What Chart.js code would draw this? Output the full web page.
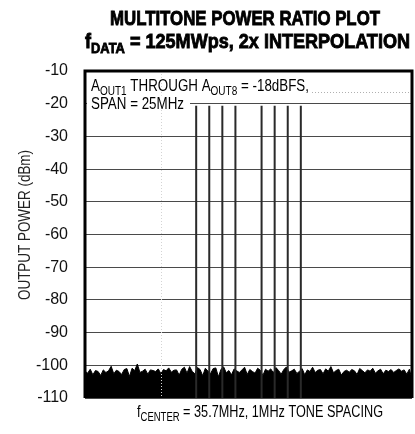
<!DOCTYPE html>
<html>
<head>
<meta charset="utf-8">
<script src="https://cdn.jsdelivr.net/npm/chart.js@4/dist/chart.umd.min.js"></script>
<style>
  body { margin: 0; background: #fff; }
  #c { display: block; }
</style>
</head>
<body>
<canvas id="c" width="415" height="434"></canvas>
<script>
// tone frequencies (MHz) and levels (dBm), 1MHz spacing around 35.7MHz, centre tone missing
var toneFreqs = [31.7, 32.7, 33.7, 34.7, 36.7, 37.7, 38.7, 39.7];
var toneLevels = [-20.6, -20.6, -20.6, -20.6, -20.6, -20.6, -20.6, -20.6];

// noise floor, one value every 0.2MHz from 23.2MHz
var noiseStart = 23.2;
var noiseStep = 0.2;
var noiseLevels = [
    -101.8, -102.4, -101.2, -102.9, -101.6, -101.9, -103.1, -101.4, -102.2, -101.7,
    -100.3, -102.6, -101.5, -101.9, -102.8, -101.3, -101.0, -103.4, -100.9, -101.6,
    -99.6, -102.2, -101.8, -101.2, -102.7, -101.4, -101.6, -101.9, -101.1, -102.5,
    -101.3, -101.7, -100.8, -102.1, -101.5, -101.4, -103.0, -101.2, -100.6, -102.4,
    -100.4, -101.9, -102.6, -100.7, -101.3, -103.2, -100.9, -101.8, -102.5, -101.0,
    -100.8, -103.5, -101.2, -100.5, -102.3, -101.6, -102.9, -101.1, -101.7, -102.2,
    -101.4, -100.6, -102.8, -101.3, -101.9, -102.4, -100.9, -101.5, -103.1, -101.2,
    -101.8, -101.1, -102.3, -100.7, -101.6, -102.7, -101.3, -100.5, -102.1, -101.7,
    -101.2, -102.5, -101.8, -101.0, -102.9, -101.4, -101.9, -100.6, -102.2, -101.5,
    -101.3, -102.6, -101.1, -101.8, -100.4, -102.3, -101.6, -101.2, -103.0, -101.9,
    -101.5, -102.1, -101.3, -101.7, -102.8, -101.0, -101.6, -102.3, -101.4, -101.8,
    -100.9, -102.4, -101.7, -101.2, -102.6, -101.5, -101.9, -101.3, -102.2, -101.6,
    -101.1, -101.8, -101.4, -102.7, -101.2, -104.3
];

// axis
var freqMin = 23.2;
var freqMax = 48.2;
var yMin = -110;
var yMax = -10;
var yStep = 10;

var FONT = "'Liberation Sans', Arial, sans-serif";

var tonePoints = [];
toneFreqs.forEach(function (f, i) {
    tonePoints.push({ x: f, y: yMin });
    tonePoints.push({ x: f, y: toneLevels[i] });
    tonePoints.push({ x: f, y: null });
});

var noisePoints = noiseLevels.map(function (v, i) {
    return { x: noiseStart + i * noiseStep, y: v };
});

// text made of pieces (some subscript), squeezed to a given width like the condensed original
function drawParts(ctx, x, y, parts, size, weight, width, heavy) {
    var fonts = parts.map(function (p) {
        return weight + " " + (p[1] ? Math.round(size * 0.72) : size) + "px " + FONT;
    });
    var total = 0;
    parts.forEach(function (p, i) {
        ctx.font = fonts[i];
        total += ctx.measureText(p[0]).width;
    });
    var sx = width ? width / total : 1;
    ctx.save();
    ctx.translate(x, y);
    ctx.scale(sx, 1);
    ctx.strokeStyle = ctx.fillStyle;
    ctx.lineWidth = 0.9;
    var cx = 0;
    parts.forEach(function (p, i) {
        ctx.font = fonts[i];
        ctx.fillText(p[0], cx, p[1] ? size * 0.22 : 0);
        if (heavy) ctx.strokeText(p[0], cx, p[1] ? size * 0.22 : 0);
        cx += ctx.measureText(p[0]).width;
    });
    ctx.restore();
    return x + total * sx;
}

var decorations = {
    id: 'decorations',
    afterDraw: function (chart) {
        var ctx = chart.ctx;
        var a = chart.chartArea;
        var ys = chart.scales.y;
        var xs = chart.scales.x;
        ctx.save();
        ctx.fillStyle = '#000';
        ctx.textBaseline = 'alphabetic';
        ctx.textAlign = 'left';

        // faint dotted vertical trace marker
        var mx = Math.round(xs.getPixelForValue(29.0)) + 0.5;
        ctx.strokeStyle = '#d4d4d4';
        ctx.lineWidth = 1;
        ctx.setLineDash([1, 2]);
        ctx.beginPath();
        ctx.moveTo(mx, a.top);
        ctx.lineTo(mx, a.bottom);
        ctx.stroke();
        ctx.setLineDash([]);

        // annotation box
        var lx = a.left + 6;
        ctx.fillStyle = '#fff';
        ctx.fillRect(a.left + 2, ys.getPixelForValue(-20) - 8, 188 - a.left, 14);
        ctx.fillStyle = '#000';
        var line1 = [["A", false], ["OUT1", true], [" THROUGH A", false], ["OUT8", true], [" = -18dBFS,", false]];
        var end1 = drawParts(ctx, lx, 91, line1, 16, 'normal', 218);
        drawParts(ctx, lx, 109, [["SPAN = 25MHz", false]], 16, 'normal', 93);

        // dotted leader from the first line
        ctx.strokeStyle = '#b0b0b0';
        ctx.setLineDash([1, 2]);
        ctx.beginPath();
        ctx.moveTo(end1 + 3, 92.5);
        ctx.lineTo(a.right - 2, 92.5);
        ctx.stroke();
        ctx.setLineDash([]);

        // frame
        ctx.strokeStyle = '#000';
        ctx.lineWidth = 3;
        ctx.beginPath();
        ctx.moveTo(a.left, a.bottom);
        ctx.lineTo(a.left, a.top);
        ctx.lineTo(a.right, a.top);
        ctx.lineTo(a.right, a.bottom);
        ctx.stroke();

        // title
        ctx.fillStyle = '#000';
        drawParts(ctx, 110, 25, [["MULTITONE POWER RATIO PLOT", false]], 21, 'bold', 270, true);
        drawParts(ctx, 85, 48, [["f", false], ["DATA", true], [" = 125MWps, 2x INTERPOLATION", false]], 21, 'bold', 325, true);

        // x label
        drawParts(ctx, 137, 417, [["f", false], ["CENTER", true], [" = 35.7MHz, 1MHz TONE SPACING", false]], 16, 'normal', 246);

        // y label
        ctx.fillStyle = '#222';
        ctx.translate(30, 300);
        ctx.rotate(-Math.PI / 2);
        drawParts(ctx, 0, 0, [["OUTPUT POWER (dBm)", false]], 16, 'normal', 150);
        ctx.restore();
    }
};

new Chart(document.getElementById("c"), {
    type: 'line',
    data: {
        datasets: [{
                label: "Tones",
                data: tonePoints,
                borderColor: "#2a2a2a",
                borderWidth: 2,
                pointRadius: 0,
                spanGaps: false,
                fill: false
            },
            {
                label: "Noise",
                data: noisePoints,
                borderColor: "#000",
                backgroundColor: "#000",
                borderWidth: 1,
                pointRadius: 0,
                tension: 0,
                fill: 'start'
            }
        ]
    },
    options: {
        responsive: false,
        animation: false,
        layout: { padding: { top: 71, right: 3, bottom: 36, left: 0 } },
        plugins: {
            legend: { display: false },
            tooltip: { enabled: false }
        },
        scales: {
            x: {
                type: 'linear',
                min: freqMin,
                max: freqMax,
                ticks: { display: false },
                grid: { display: false },
                border: { display: false },
                afterFit: function (scale) { scale.height = 0; }
            },
            y: {
                min: yMin,
                max: yMax,
                ticks: {
                    stepSize: yStep,
                    padding: 17,
                    color: '#111',
                    font: { family: FONT, size: 16 }
                },
                grid: { color: '#4a4a4a', lineWidth: 1, drawTicks: false },
                border: { display: false },
                afterFit: function (scale) { scale.width = 85; }
            }
        }
    },
    plugins: [decorations]
});
</script>
</body>
</html>
